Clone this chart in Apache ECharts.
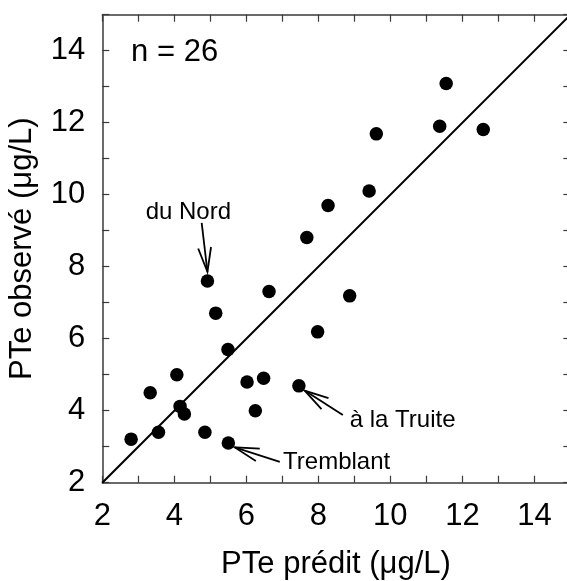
<!DOCTYPE html>
<html>
<head>
<meta charset="utf-8">
<script src="https://cdn.jsdelivr.net/npm/echarts@6/dist/echarts.min.js"></script>
<style>
  html, body { margin: 0; padding: 0; background: #fff; }
  #chart { width: 567px; height: 581px; }
</style>
</head>
<body>
<div id="chart"></div>
<script>
// Predicted vs observed total phosphorus (PTe, µg/L) for 26 lakes
const ptePredit = [2.80, 3.33, 3.56, 4.07, 4.16, 4.28, 4.85, 4.92, 5.15, 5.49, 5.50, 6.02, 6.25,
                   6.48, 6.63, 7.46, 7.68, 7.98, 8.27, 8.87, 9.41, 9.61, 11.37, 11.55, 12.58];
const pteObserve = [3.21, 4.50, 3.40, 5.00, 4.12, 3.91, 3.40, 7.60, 6.71, 5.70, 3.10, 4.80, 4.00,
                    4.90, 7.31, 4.69, 8.81, 6.19, 9.70, 7.19, 10.10, 11.69, 11.90, 13.09, 11.81];

// 1:1 reference line
const oneToOne = [[2, 2], [15, 15]];

// axis range shared by both axes
const axisMin = 2, axisMax = 15, axisStep = 1;

// labelled lakes: label text, label anchor, arrow tail, arrow tip (data units)
const lakeNames = ['du Nord', 'Tremblant', 'à la Truite'];
const lakeLabelAt = [[4.39, 9.50], [7.02, 2.575], [8.87, 3.74]];
const lakeArrowTail = [[4.76, 9.22], [6.93, 2.58], [8.68, 3.88]];
const lakeArrowTip = [[4.92, 7.86], [5.68, 2.98], [7.62, 4.56]];

const sampleLabel = 'n = 26';
const sampleLabelAt = [2.80, 13.95];

const FONT = '"Liberation Sans", Arial, Helvetica, sans-serif';
const AXIS_COLOR = '#3a3a3a';

const chart = echarts.init(document.getElementById('chart'), null, { renderer: 'canvas' });

function evenOnly(v) { return Math.round(v) % 2 === 0 ? String(Math.round(v)) : ''; }

function frameAxis(position, showLabels, margin) {
  return {
    type: 'value', position: position,
    min: axisMin, max: axisMax, interval: axisStep,
    axisLine: { show: true, onZero: false, lineStyle: { color: AXIS_COLOR, width: 1.5 } },
    axisTick: { show: true, inside: true, length: 7, lineStyle: { color: AXIS_COLOR, width: 1.2 } },
    axisLabel: showLabels ? {
      show: true, formatter: evenOnly, margin: margin,
      fontFamily: FONT, fontSize: 31, color: '#000'
    } : { show: false },
    splitLine: { show: false }
  };
}

const scatterData = ptePredit.map((x, i) => [x, pteObserve[i]]);

chart.setOption({
  animation: false,
  backgroundColor: '#fff',
  grid: { left: 102.3, top: 14.7, right: -3.4, bottom: 98.3, containLabel: false, outerBoundsMode: 'none' },
  xAxis: [frameAxis('bottom', true, 18), frameAxis('top', false)],
  yAxis: [frameAxis('left', true, 17), frameAxis('right', false)],
  series: [
    {
      type: 'line', data: oneToOne, symbol: 'none', silent: true,
      lineStyle: { color: '#000', width: 2 }, z: 2
    },
    {
      type: 'scatter', data: scatterData, symbol: 'circle', symbolSize: 13.5,
      itemStyle: { color: '#000', opacity: 1 }, z: 3
    }
  ]
});

// annotations placed through the axis scales
function px(pt) { return chart.convertToPixel({ xAxisIndex: 0, yAxisIndex: 0 }, pt); }

function arrowShapes(tailData, tipData) {
  const tail = px(tailData), tip = px(tipData);
  const dx = tail[0] - tip[0], dy = tail[1] - tip[1];
  const len = Math.hypot(dx, dy);
  const ux = dx / len, uy = dy / len;
  const head = 25, ang = 15 * Math.PI / 180;
  const arm = (a) => [tip[0] + head * (ux * Math.cos(a) - uy * Math.sin(a)),
                      tip[1] + head * (ux * Math.sin(a) + uy * Math.cos(a))];
  const style = { stroke: '#000', lineWidth: 1.8, fill: null };
  return [
    { type: 'polyline', shape: { points: [tail, tip] }, style: style, z: 10 },
    { type: 'polyline', shape: { points: [arm(ang), tip, arm(-ang)] }, style: style, z: 10 }
  ];
}

const graphics = [];
lakeNames.forEach((name, i) => {
  const p = px(lakeLabelAt[i]);
  graphics.push({
    type: 'text', x: p[0], y: p[1], z: 10,
    style: {
      text: name, fill: '#000', font: '24px ' + FONT,
      align: i === 0 ? 'center' : 'left', verticalAlign: 'middle'
    }
  });
  graphics.push(...arrowShapes(lakeArrowTail[i], lakeArrowTip[i]));
});

const np = px(sampleLabelAt);
graphics.push({
  type: 'text', x: np[0], y: np[1], z: 10,
  style: { text: sampleLabel, fill: '#000', font: '31px ' + FONT, align: 'left', verticalAlign: 'middle' }
});

// axis titles
graphics.push({
  type: 'text', x: 22.5, y: 248.7, rotation: Math.PI / 2, z: 10,
  style: { text: 'PTe observé (μg/L)', fill: '#000', font: '31px ' + FONT, align: 'center', verticalAlign: 'middle' }
});
graphics.push({
  type: 'text', x: 336, y: 564, z: 10,
  style: { text: 'PTe prédit (μg/L)', fill: '#000', font: '31px ' + FONT, align: 'center', verticalAlign: 'middle' }
});

chart.setOption({ graphic: graphics });
</script>
</body>
</html>
